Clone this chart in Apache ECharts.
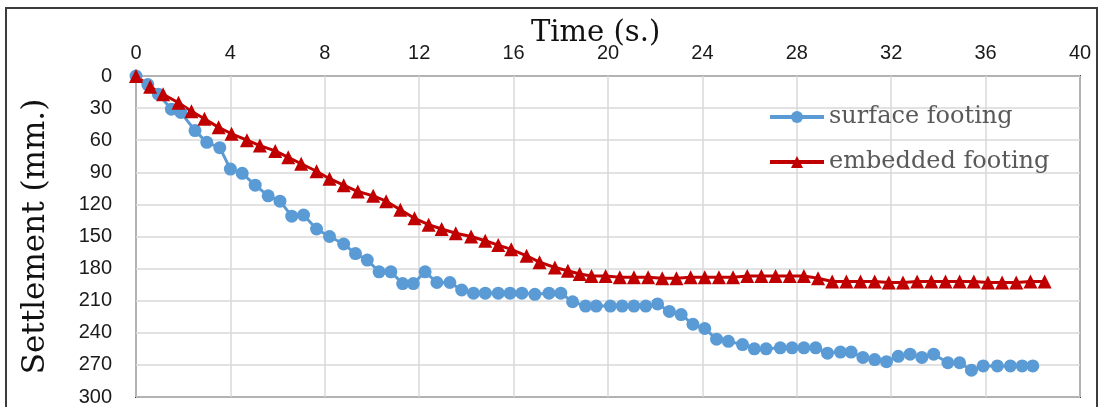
<!DOCTYPE html>
<html>
<head>
<meta charset="utf-8">
<script src="https://cdn.jsdelivr.net/npm/echarts@6/dist/echarts.min.js"></script>
<style>
    html, body { margin: 0; padding: 0; background: #fff; }
    #settlementChart { width: 1099px; height: 407px; }
</style>
</head>
<body>
<div id="settlementChart"></div>
<script>
// surface footing: time (s.) and settlement (mm.)
var surfaceTime = [0, 0.5, 0.95, 1.5, 1.9, 2.5, 3.0, 3.55, 4.0, 4.5, 5.05, 5.6, 6.1, 6.6, 7.1, 7.65, 8.2, 8.8, 9.3, 9.8,
    10.3, 10.8, 11.3, 11.75, 12.25, 12.75, 13.3, 13.8, 14.3, 14.8, 15.35, 15.85, 16.35, 16.9, 17.5, 18.0, 18.5, 19.05, 19.5, 20.1,
    20.6, 21.1, 21.6, 22.1, 22.6, 23.1, 23.6, 24.1, 24.6, 25.1, 25.7, 26.2, 26.7, 27.3, 27.8, 28.3, 28.8, 29.3, 29.85, 30.3,
    30.8, 31.3, 31.8, 32.3, 32.8, 33.3, 33.8, 34.4, 34.9, 35.4, 35.9, 36.5, 37.05, 37.55, 38.0];
var surfaceSettlement = [0, 8, 17, 31, 34, 51, 62, 67, 87, 91, 102, 112, 117, 131, 130, 143, 150, 157, 166, 172,
    183, 183, 194, 194, 183, 193, 193, 200, 203, 203, 203, 203, 203, 204, 203, 203, 211, 215, 215, 215,
    215, 215, 215, 213, 220, 223, 232, 236, 246, 248, 251, 255, 255, 254, 254, 254, 254, 259, 258, 258,
    263, 265, 267, 262, 260, 263, 260, 268, 268, 275, 271, 271, 271, 271, 271];

// embedded footing
var embeddedTime = [0, 0.6, 1.15, 1.8, 2.35, 2.9, 3.5, 4.05, 4.7, 5.25, 5.9, 6.45, 7.0, 7.65, 8.2, 8.8, 9.4, 10.05, 10.6, 11.2,
    11.8, 12.4, 12.95, 13.55, 14.2, 14.8, 15.35, 15.9, 16.55, 17.1, 17.75, 18.3, 18.8, 19.3, 19.9, 20.5, 21.1, 21.7, 22.3, 22.9,
    23.5, 24.1, 24.7, 25.3, 25.9, 26.5, 27.1, 27.7, 28.3, 28.9, 29.5, 30.1, 30.7, 31.3, 31.9, 32.5, 33.1, 33.7, 34.3, 34.9,
    35.5, 36.1, 36.7, 37.3, 37.9, 38.5];
var embeddedSettlement = [0, 10, 17, 25, 33, 40, 48, 54, 60, 65, 70, 76, 82, 89, 96, 102, 108, 112, 117, 125,
    133, 139, 143, 147, 150, 154, 158, 162, 168, 174, 179, 182, 185, 187, 187, 188, 188, 188, 189, 189,
    188, 188, 188, 188, 187, 187, 187, 187, 187, 189, 192, 192, 192, 192, 193, 193, 192, 192, 192, 192,
    192, 193, 193, 193, 192, 192];

var seriesNames = ["surface footing", "embedded footing"];

function pairs(xs, ys){
    var out = [];
    for(var i = 0; i < xs.length; i++){
        out.push([xs[i], ys[i]]);
    }
    return out;
}

var chart = echarts.init(document.getElementById("settlementChart"));
chart.setOption({
    animation: false,
    backgroundColor: "#fff",
    title: {
        text: "Time (s.)",   // x axis title sits above the top axis
        left: 526,
        top: 14,
        textStyle: {
            fontFamily: "DejaVu Serif",
            fontSize: 29,
            fontWeight: "normal",
            color: "#111"
        }
    },
    graphic: [{
        type: "rect",
        shape: {x: 6, y: 8, width: 1091, height: 420},
        style: {fill: "none", stroke: "#3c3c3c", lineWidth: 2},
        silent: true
    }],
    legend: {
        orient: "vertical",
        left: 763,
        top: 100,
        itemWidth: 54,
        itemHeight: 15,
        itemGap: 21,
        lineStyle: {width: 4},
        textStyle: {
            fontFamily: "DejaVu Serif",
            fontSize: 24,
            lineHeight: 24,
            color: "#595959"
        },
        data: seriesNames
    },
    grid: {
        left: 136,
        right: 19,
        top: 76,
        bottom: 5,
        show: true,
        borderColor: "#404040",
        borderWidth: 2
    },
    xAxis: {
        type: "value",
        position: "top",
        min: 0,
        max: 40,
        interval: 4,
        axisLine: {show: false},
        axisTick: {show: false},
        axisLabel: {
            margin: 13,
            fontFamily: "Liberation Sans",
            fontSize: 20,
            color: "#1a1a1a"
        },
        splitLine: {lineStyle: {color: "#d9d9d9", width: 1.5}}
    },
    yAxis: {
        type: "value",
        inverse: true,
        min: 0,
        max: 300,
        interval: 30,
        name: "Settlement (mm.)",
        nameLocation: "middle",
        nameGap: 85,
        nameTextStyle: {
            fontFamily: "DejaVu Serif",
            fontSize: 31,
            color: "#111"
        },
        axisLine: {show: false},
        axisTick: {show: false},
        axisLabel: {
            margin: 24,
            fontFamily: "Liberation Sans",
            fontSize: 20,
            color: "#1a1a1a"
        },
        splitLine: {lineStyle: {color: "#d9d9d9", width: 1.5}}
    },
    series: [{
        name: seriesNames[0],
        type: "line",
        symbol: "circle",
        symbolSize: 13,
        color: "#5b9bd5",
        lineStyle: {width: 3, color: "#5b9bd5"},
        itemStyle: {color: "#5b9bd5"},
        data: pairs(surfaceTime, surfaceSettlement)
    }, {
        name: seriesNames[1],
        type: "line",
        symbol: "triangle",
        symbolSize: 14,
        color: "#c00000",
        lineStyle: {width: 3, color: "#c00000"},
        itemStyle: {color: "#c00000"},
        data: pairs(embeddedTime, embeddedSettlement)
    }]
});
</script>
</body>
</html>
